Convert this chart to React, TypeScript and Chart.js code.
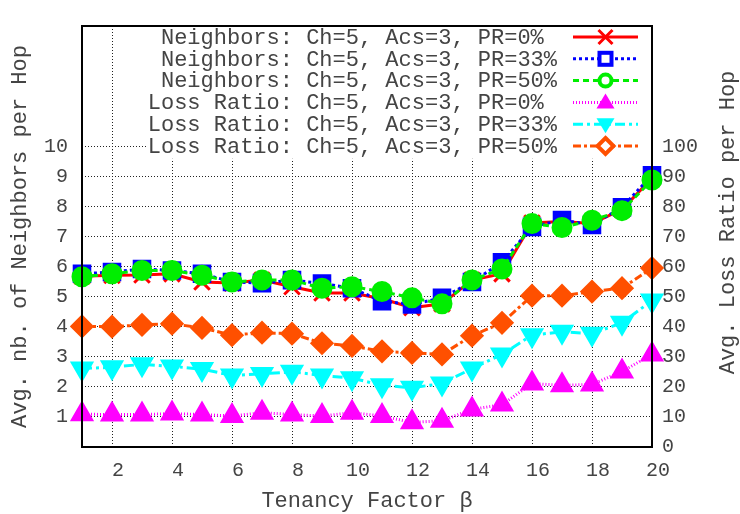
import React, { useEffect, useRef } from 'react';
import { Chart, registerables } from 'chart.js';

Chart.register(...registerables);

// ---- data ----
const beta = [1, 2, 3, 4, 5, 6, 7, 8, 9, 10, 11, 12, 13, 14, 15, 16, 17, 18, 19, 20];
const neighborsPR0 = [5.68, 5.71, 5.72, 5.76, 5.49, 5.45, 5.55, 5.33, 5.12, 5.12, 4.93, 4.63, 4.76, 5.55, 5.76, 7.45, 7.5, 7.43, 7.9, 8.94];
const neighborsPR33 = [5.76, 5.82, 5.92, 5.87, 5.76, 5.49, 5.45, 5.55, 5.44, 5.28, 4.85, 4.74, 4.96, 5.49, 6.14, 7.32, 7.55, 7.38, 7.97, 9.04];
const neighborsPR50 = [5.66, 5.76, 5.87, 5.87, 5.71, 5.49, 5.55, 5.55, 5.28, 5.33, 5.17, 4.96, 4.76, 5.55, 5.92, 7.43, 7.3, 7.54, 7.86, 8.88];
const lossPR0 = [10.9, 10.8, 10.8, 11.1, 10.8, 10.3, 11.4, 10.8, 10.3, 11.4, 10.3, 8.2, 8.7, 12.5, 14.1, 21.1, 20.5, 20.8, 25.1, 30.8];
const lossPR33 = [26.1, 26.5, 27.5, 26.8, 25.9, 23.8, 24.3, 25.0, 23.8, 22.9, 20.5, 19.7, 21.1, 26.1, 30.8, 37.2, 38.3, 37.7, 41.3, 48.7];
const lossPR50 = [40.1, 40.0, 40.6, 41.0, 39.6, 37.2, 38.0, 37.7, 34.5, 33.6, 31.8, 31.3, 30.8, 37.0, 41.3, 50.3, 50.3, 51.7, 52.8, 59.5];

const seriesLabels = [
  'Neighbors: Ch=5, Acs=3, PR=0%',
  'Neighbors: Ch=5, Acs=3, PR=33%',
  'Neighbors: Ch=5, Acs=3, PR=50%',
  'Loss Ratio: Ch=5, Acs=3, PR=0%',
  'Loss Ratio: Ch=5, Acs=3, PR=33%',
  'Loss Ratio: Ch=5, Acs=3, PR=50%',
];

const xTickValues = [2, 4, 6, 8, 10, 12, 14, 16, 18, 20];
const leftTickValues = [1, 2, 3, 4, 5, 6, 7, 8, 9, 10];
const rightTickValues = [0, 10, 20, 30, 40, 50, 60, 70, 80, 90, 100];

const xTitle = 'Tenancy Factor β';
const leftTitle = 'Avg. nb. of Neighbors per Hop';
const rightTitle = 'Avg. Loss Ratio per Hop';

// ---- styles ----
const FONT = '"Liberation Mono", "DejaVu Sans Mono", monospace';
const TEXT = '#444444';

type Sty = {
  color: string;
  dash: number[];
  marker: string;
  radius: number;
  rotation: number;
  fill: boolean;
  axis: string;
};

const styles: Sty[] = [
  { color: '#ff0000', dash: [], marker: 'crossRot', radius: 11, rotation: 0, fill: false, axis: 'y' },
  { color: '#0000ff', dash: [3, 3], marker: 'rect', radius: 11, rotation: 0, fill: true, axis: 'y' },
  { color: '#00ee00', dash: [6, 4], marker: 'circle', radius: 9, rotation: 0, fill: true, axis: 'y' },
  { color: '#ff00ff', dash: [1, 2], marker: 'triangle', radius: 11, rotation: 0, fill: true, axis: 'y2' },
  { color: '#00ffff', dash: [10, 4, 3, 4], marker: 'triangle', radius: 11, rotation: 180, fill: true, axis: 'y2' },
  { color: '#ff5000', dash: [8, 3, 3, 3], marker: 'rectRot', radius: 10, rotation: 0, fill: true, axis: 'y2' },
];

const seriesValues = [neighborsPR0, neighborsPR33, neighborsPR50, lossPR0, lossPR33, lossPR50];

function drawLegendMarker(ctx: CanvasRenderingContext2D, i: number, x: number, y: number, color: string) {
  ctx.save();
  ctx.setLineDash([]);
  ctx.strokeStyle = color;
  ctx.fillStyle = color;
  ctx.lineWidth = 3;
  ctx.beginPath();
  if (i === 0) {
    const s = 7;
    ctx.moveTo(x - s, y - s);
    ctx.lineTo(x + s, y + s);
    ctx.moveTo(x + s, y - s);
    ctx.lineTo(x - s, y + s);
    ctx.stroke();
  } else if (i === 1) {
    ctx.lineWidth = 4;
    ctx.fillStyle = '#ffffff';
    ctx.fillRect(x - 6, y - 6, 12, 12);
    ctx.strokeRect(x - 6, y - 6, 12, 12);
  } else if (i === 2) {
    ctx.lineWidth = 4;
    ctx.fillStyle = '#ffffff';
    ctx.arc(x, y, 6, 0, Math.PI * 2);
    ctx.fill();
    ctx.stroke();
  } else if (i === 3) {
    ctx.moveTo(x, y - 9);
    ctx.lineTo(x + 9, y + 6);
    ctx.lineTo(x - 9, y + 6);
    ctx.closePath();
    ctx.fill();
  } else if (i === 4) {
    ctx.moveTo(x, y + 9);
    ctx.lineTo(x + 9, y - 6);
    ctx.lineTo(x - 9, y - 6);
    ctx.closePath();
    ctx.fill();
  } else {
    ctx.lineWidth = 4;
    ctx.moveTo(x, y - 8);
    ctx.lineTo(x + 8, y);
    ctx.lineTo(x, y + 8);
    ctx.lineTo(x - 8, y);
    ctx.closePath();
    ctx.fillStyle = '#ffffff';
    ctx.fill();
    ctx.stroke();
  }
  ctx.restore();
}

const keyPlugin = {
  id: 'gnuKey',
  afterDatasetsDraw(chart: any) {
    const { ctx, chartArea } = chart;
    const rowH = 21.8;
    const boxLeft = chartArea.left + 64;
    const boxRight = chartArea.right - 2;
    ctx.save();
    ctx.fillStyle = '#ffffff';
    ctx.fillRect(boxLeft, chartArea.top + 1, boxRight - boxLeft, rowH * 6 + 1);
    ctx.font = `22px ${FONT}`;
    ctx.textAlign = 'right';
    ctx.textBaseline = 'middle';
    const textRight = chartArea.right - 95;
    const lineL = chartArea.right - 79;
    const lineR = chartArea.right - 14;
    chart.data.datasets.forEach((ds: any, i: number) => {
      const y = chartArea.top + 11 + i * rowH;
      const label: string = ds.label;
      const shown = /PR=\d%$/.test(label) ? label + ' ' : label;
      ctx.fillStyle = TEXT;
      ctx.fillText(shown, textRight, y + 1);
      ctx.save();
      ctx.strokeStyle = styles[i].color;
      ctx.lineWidth = 3;
      ctx.setLineDash(styles[i].dash);
      ctx.beginPath();
      ctx.moveTo(lineL, y);
      ctx.lineTo(lineR, y);
      ctx.stroke();
      ctx.restore();
      drawLegendMarker(ctx, i, (lineL + lineR) / 2, y, styles[i].color);
    });
    ctx.restore();
  },
  afterDraw(chart: any) {
    const { ctx, chartArea, width } = chart;
    ctx.save();
    ctx.strokeStyle = '#000000';
    ctx.lineWidth = 2;
    ctx.setLineDash([]);
    ctx.strokeRect(chartArea.left, chartArea.top, chartArea.right - chartArea.left, chartArea.bottom - chartArea.top);
    ctx.translate(width - 12, (chartArea.top + chartArea.bottom) / 2 - 14);
    ctx.rotate(-Math.PI / 2);
    ctx.font = `22px ${FONT}`;
    ctx.fillStyle = TEXT;
    ctx.textAlign = 'center';
    ctx.textBaseline = 'middle';
    ctx.fillText(rightTitle, 0, 0);
    ctx.restore();
  },
};

export default function App() {
  const ref = useRef<HTMLCanvasElement | null>(null);

  useEffect(() => {
    if (!ref.current) return;
    const datasets = seriesValues.map((vals, i) => {
      const s = styles[i];
      return {
        label: seriesLabels[i],
        data: beta.map((b, j) => ({ x: b, y: vals[j] })),
        yAxisID: s.axis,
        borderColor: s.color,
        backgroundColor: s.color,
        borderWidth: 3,
        borderDash: s.dash,
        pointStyle: s.marker,
        pointRadius: s.radius,
        pointRotation: s.rotation,
        pointBorderWidth: 3,
        pointBorderColor: s.color,
        pointBackgroundColor: s.fill ? s.color : 'rgba(0,0,0,0)',
        tension: 0,
        clip: false as any,
        order: 10 - i,
      };
    });

    const gridCfg = { color: '#222222', lineWidth: 1, drawTicks: false };
    const tickFont = { family: FONT, size: 20 };
    const titleFont = { family: FONT, size: 22 };

    const chart = new Chart(ref.current, {
      type: 'line',
      data: { datasets: datasets as any },
      plugins: [keyPlugin],
      options: {
        responsive: false,
        animation: false,
        events: [],
        layout: { padding: { top: 11, left: 0, right: 0, bottom: 0 } },
        plugins: { legend: { display: false }, tooltip: { enabled: false } },
        scales: {
          x: {
            type: 'linear',
            position: 'bottom',
            min: 1,
            max: 20,
            afterBuildTicks: (s: any) => {
              s.ticks = xTickValues.map((v) => ({ value: v }));
            },
            afterFit: (s: any) => {
              s.height = 67;
            },
            grid: gridCfg,
            border: { display: false, dash: [1, 2] },
            ticks: {
              padding: 12,
              labelOffset: 6,
              color: TEXT,
              font: tickFont,
              autoSkip: false,
              maxRotation: 0,
              callback: (v: any) => String(v),
            },
            title: { display: true, text: xTitle, color: TEXT, font: titleFont, padding: { top: 1, bottom: 0 } },
          },
          y: {
            type: 'linear',
            position: 'left',
            min: 0,
            max: 14,
            afterBuildTicks: (s: any) => {
              s.ticks = leftTickValues.map((v) => ({ value: v }));
            },
            afterFit: (s: any) => {
              s.width = 82;
            },
            grid: gridCfg,
            border: { display: false, dash: [1, 2] },
            ticks: { padding: 14, color: TEXT, font: tickFont, autoSkip: false, callback: (v: any) => String(v) },
            title: { display: true, text: leftTitle, color: TEXT, font: titleFont, padding: { top: 7, bottom: 0 } },
          },
          y2: {
            type: 'linear',
            position: 'right',
            min: 0,
            max: 140,
            afterBuildTicks: (s: any) => {
              s.ticks = rightTickValues.map((v) => ({ value: v }));
            },
            afterFit: (s: any) => {
              s.width = 88;
            },
            grid: { display: false, drawTicks: false },
            border: { display: false },
            ticks: { padding: 10, color: TEXT, font: tickFont, autoSkip: false, callback: (v: any) => String(v) },
          },
        },
      } as any,
    });
    return () => chart.destroy();
  }, []);

  return (
    <div style={{ position: 'absolute', left: 0, top: 0, width: 740, height: 514, background: '#ffffff' }}>
      <canvas ref={ref} width={740} height={514} style={{ display: 'block', width: 740, height: 514 }} />
    </div>
  );
}
